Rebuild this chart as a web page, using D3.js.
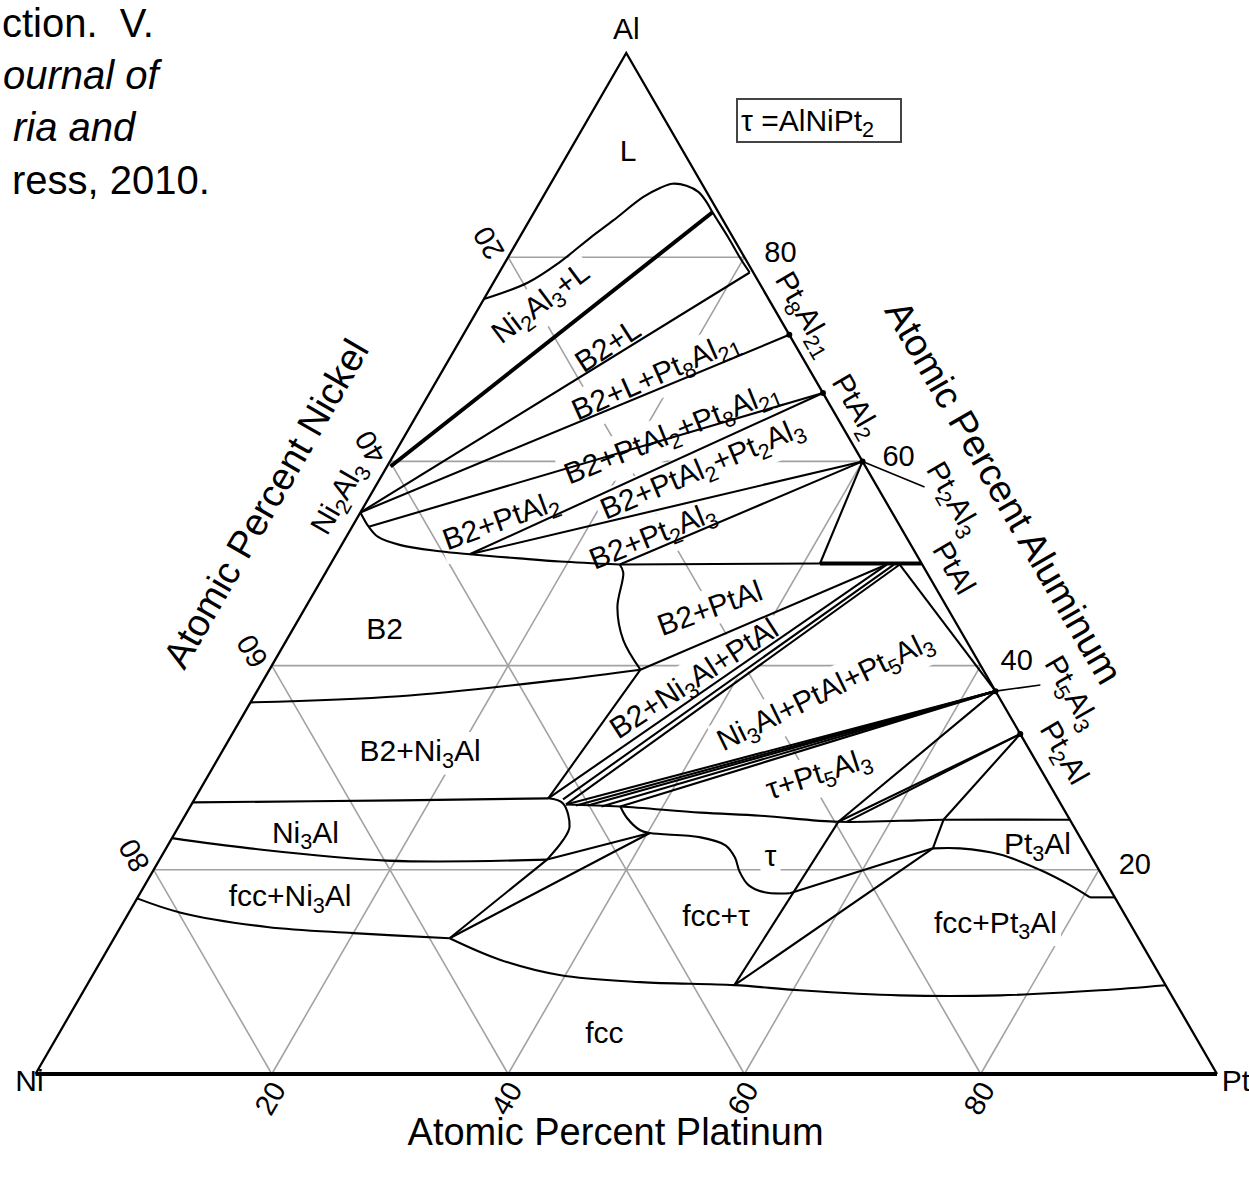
<!DOCTYPE html>
<html>
<head>
<meta charset="utf-8">
<script src="https://cdn.jsdelivr.net/npm/d3@7"></script>
<style>
  body { margin: 0; background: #fff; }
  svg { display: block; }
  text { font-family: "Liberation Sans", Arial, Helvetica, sans-serif; fill: #000; }
</style>
</head>
<body>
<svg id="chart" width="1249" height="1177"></svg>
<script>
// ---------------------------------------------------------------
// Al-Ni-Pt isothermal section. Every composition is [at.% Pt, at.% Al]
// (at.% Ni is the remainder).
// ---------------------------------------------------------------
const TICKS = [20, 40, 60, 80];
const VERTICES = [["Ni", 0, 0], ["Pt", 100, 0], ["Al", 0, 100]];
const AXIS_TITLES = ["Atomic Percent Nickel", "Atomic Percent Aluminum", "Atomic Percent Platinum"];
const CITATION = ["ction.  V.", "ournal of", "ria and", "ress, 2010."];
const LEGEND_TEXT = "\u03c4 =AlNiPt_2";

// phase boundaries (smooth curves)
const liquidus   = [[0,75.9],[2.9,77.5],[4.6,79.5],[6.0,81.9],[7.1,83.6],[8.5,85.9],[9.5,86.8],[10.3,87.2],[11.6,87.0],[12.9,86.4],[14.1,85.4],[15.1,84.4],[17.6,82.0],[19.6,80.0],[21.2,78.5]];
const b2AlRich   = [[0,55.0],[1.4,53.6],[2.7,52.6],[5.0,51.8],[8.6,51.2],[11.3,50.9],[15.7,50.5],[19.3,50.2],[24.5,49.9]];
const b2PtSide   = [[24.5,49.9],[25.2,49.1],[26.4,45.7],[28.5,42.5],[31.4,39.6]];
const b2NiSide   = [[0,36.4],[12.3,37.0],[25.1,38.6],[31.4,39.6]];
const ni3AlAlRich = [[0,26.6],[17.4,26.8],[29.9,27.0]];
const ni3AlPtSide = [[29.9,27.0],[31.4,26.5],[33.1,24.2],[33.2,22.9],[32.8,21.0]];
const ni3AlNiRich = [[0,23.1],[7.1,22.1],[19.3,20.9],[32.8,21.0]];
const fccAlRich  = [[0,17.2],[4.4,15.8],[12.4,14.4],[20.0,13.8],[28.4,13.3]];
const fccSolvus  = [[28.4,13.3],[33.7,11.2],[39.5,9.7],[46.7,9.0],[54.8,8.7],[60.6,8.2],[69.3,7.7],[77.8,7.7],[86.0,8.2],[91.3,8.7]];
const tauUpper   = [[31.7,26.4],[36.4,26.2],[43.5,25.6],[48.7,25.3],[55.6,24.7],[60.8,24.8],[64.4,24.9],[75.1,24.9]];
const tauLower   = [[36.4,26.2],[37.5,25.1],[39.2,23.9],[40.2,23.6],[44.6,23.2],[47.2,22.4],[48.6,21.2],[49.7,19.8],[51.1,18.5],[52.8,17.8],[55.0,17.7]];
const pt3AlLower = [[64.9,22.1],[67.2,22.1],[70.9,21.5],[75.0,20.0],[78.3,18.5],[80.6,17.3]];

// straight tie lines and tie triangles
const tieLines = [
  [[0,55.0],[21.2,78.5]],
  [[0,55.0],[27.6,72.4]],
  [[1.4,53.6],[33.3,66.7]],
  [[11.3,50.9],[33.3,66.7]],
  [[11.3,50.9],[40.0,60.0]],
  [[24.5,49.9],[40.0,60.0]],
  [[24.5,49.9],[41.4,50.0]],
  [[40.0,60.0],[41.4,50.0]],
  [[31.4,39.6],[29.9,27.0]],
  [[31.4,39.6],[47.1,49.9]],
  [[29.9,27.0],[47.1,49.9]],
  [[31.2,26.9],[47.7,49.9]],
  [[31.7,26.4],[48.2,49.9]],
  [[31.7,26.4],[62.5,37.5]],
  [[48.2,49.9],[62.5,37.5]],
  [[32.6,26.3],[62.5,37.5]],
  [[33.6,26.3],[62.5,37.5]],
  [[34.8,26.2],[62.5,37.5]],
  [[36.4,26.2],[62.5,37.5]],
  [[55.6,24.7],[62.5,37.5]],
  [[55.6,24.7],[66.7,33.3]],
  [[56.3,24.7],[66.7,33.3]],
  [[64.4,24.9],[66.7,33.3]],
  [[28.4,13.3],[32.8,21.0]],
  [[32.8,21.0],[40.2,23.6]],
  [[28.4,13.3],[40.2,23.6]],
  [[54.8,8.7],[55.6,24.7]],
  [[55.0,17.7],[64.9,22.1]],
  [[54.8,8.7],[64.9,22.1]],
  [[64.4,24.9],[64.9,22.1]],
  [[80.6,17.3],[82.7,17.3]]
];
const heavyLines = [
  [[0.3,59.5],[15.1,84.4]],   // Ni2Al3 + L
  [[41.4,50.0],[50.0,50.0]]   // PtAl
];
const leaderLines = [
  [[40.0,60.0],[46.5,57.5]],
  [[62.5,37.5],[66.0,38.1]]
];
const compounds = [[27.6,72.4],[33.3,66.7],[40.0,60.0],[62.5,37.5],[66.7,33.3]];

// labels: text, Pt, Al, angle
const regionLabels = [
  ["L", 4.9, 90.5, 0],
  ["Ni_2Al_3+L", 4.9, 75.6, -37],
  ["B2+L", 12.7, 71.4, -33],
  ["B2+L+Pt_8Al_21", 18.2, 68.5, -24],
  ["B2+PtAl_2+Pt_8Al_21", 22.4, 62.9, -22],
  ["B2+PtAl_2", 12.2, 54.3, -20],
  ["B2+PtAl_2+Pt_2Al_3", 26.7, 59.4, -23],
  ["B2+Pt_2Al_3", 25.8, 52.8, -22],
  ["B2+PtAl", 34.2, 45.7, -20],
  ["B2", 7.7, 43.7, 0],
  ["B2+Ni_3Al", 16.7, 31.7, 0],
  ["B2+Ni_3Al+PtAl", 36.3, 38.8, -33],
  ["Ni_3Al+PtAl+Pt_5Al_3", 48.0, 37.6, -26],
  ["\u03c4+Pt_5Al_3", 51.5, 29.5, -18],
  ["Ni_3Al", 11.0, 23.7, 0],
  ["\u03c4", 51.5, 21.4, 0],
  ["Pt_3Al", 73.5, 22.6, 0],
  ["fcc+Ni_3Al", 12.8, 17.5, 0],
  ["fcc+\u03c4", 49.8, 15.6, 0],
  ["fcc+Pt_3Al", 73.8, 14.9, 0],
  ["fcc", 46.1, 4.1, 0],
  ["Ni_2Al_3", -2.7, 56.5, -60],
  ["Pt_8Al_21", 28.0, 74.5, 60],
  ["PtAl_2", 36.8, 65.5, 60],
  ["Pt_2Al_3", 49.6, 56.4, 60],
  ["PtAl", 53.0, 49.6, 60],
  ["Pt_5Al_3", 69.1, 37.4, 60],
  ["Pt_2Al", 71.4, 31.5, 60]
];
// axis titles anchored at [Pt, Al] with a rotation
const titleSpots = [[-8.5, 55.9, -60], [53.5, 57.0, 60]];

// ---------------------------------------------------------------
const W = 1249, H = 1177;
const svg = d3.select("#chart");
const sx = d3.scaleLinear().domain([0, 100]).range([35.5, 1217]);
const sy = d3.scaleLinear().domain([0, 100]).range([1074, 53]);
const px = d => sx(d[0] + d[1] / 2);
const py = d => sy(d[1]);
const straight = d3.line().x(px).y(py);
const smooth = d3.line().x(px).y(py).curve(d3.curveCatmullRom.alpha(0.5));

const defs = svg.append("defs");
const mask = defs.append("mask").attr("id", "gridGaps")
  .attr("maskUnits", "userSpaceOnUse").attr("x", 0).attr("y", 0).attr("width", W).attr("height", H);
mask.append("rect").attr("width", W).attr("height", H).attr("fill", "#fff");

// grid
const gGrid = svg.append("g").attr("mask", "url(#gridGaps)")
  .attr("fill", "none").attr("stroke", "#a2a2a2").attr("stroke-width", 1.6);
TICKS.forEach(t => {
  gGrid.append("path").attr("d", straight([[0, t], [100 - t, t]]));       // constant Al
  gGrid.append("path").attr("d", straight([[t, 0], [t, 100 - t]]));       // constant Pt
  gGrid.append("path").attr("d", straight([[0, 100 - t], [100 - t, 0]])); // constant Ni
});

// triangle
const gFrame = svg.append("g").attr("fill", "none").attr("stroke", "#000");
gFrame.append("path").attr("d", straight([[0, 0], [0, 100], [100, 0]])).attr("stroke-width", 2.3);
gFrame.append("path").attr("d", straight([[0, 0], [100, 0]])).attr("stroke-width", 4);

// phase boundaries
const gB = svg.append("g").attr("fill", "none").attr("stroke", "#000")
  .attr("stroke-width", 2.1).attr("stroke-linejoin", "round");
[liquidus, b2AlRich, b2PtSide, b2NiSide, ni3AlAlRich, ni3AlPtSide, ni3AlNiRich,
 fccAlRich, fccSolvus, tauUpper, tauLower, pt3AlLower].forEach(c => gB.append("path").attr("d", smooth(c)));
tieLines.forEach(l => gB.append("path").attr("d", straight(l)));
heavyLines.forEach(l => gB.append("path").attr("d", straight(l)).attr("stroke-width", 4));
leaderLines.forEach(l => gB.append("path").attr("d", straight(l)).attr("stroke-width", 1.6));
svg.append("g").selectAll("circle").data(compounds).join("circle")
  .attr("cx", px).attr("cy", py).attr("r", 3).attr("fill", "#000");

// rich text with numeric subscripts written as _n
function richText(sel, str) {
  const parts = str.split(/_(\d+)/);
  let shifted = false;
  parts.forEach((s, i) => {
    if (!s) return;
    const sub = i % 2 === 1;
    const ts = sel.append("tspan").text(s);
    if (sub) { ts.attr("font-size", "0.72em").attr("dy", shifted ? null : "0.3em"); shifted = true; }
    else if (shifted) { ts.attr("dy", "-0.22em"); shifted = false; }
  });
}

// labels inside/around the triangle; grid is cut behind them
const gLab = svg.append("g");
function placeLabel(str, x, y, angle, size, anchor) {
  const tr = `translate(${x},${y}) rotate(${angle})`;
  const g = gLab.append("g").attr("transform", tr);
  const t = g.append("text").attr("font-size", size).attr("text-anchor", anchor || "middle").attr("dy", "0.36em");
  richText(t, str);
  const b = t.node().getBBox();
  mask.append("rect").attr("transform", tr)
    .attr("x", b.x - 4).attr("y", b.y - 2).attr("width", b.width + 8).attr("height", b.height + 4)
    .attr("fill", "#000");
  return t;
}
regionLabels.forEach(([s, p, a, ang]) => placeLabel(s, px([p, a]), py([p, a]), ang, 30));

// tick labels
TICKS.forEach(t => {
  // Ni scale along the left edge
  placeLabel(String(t), px([0, 100 - t]) - 20, py([0, 100 - t]) - 14, -120, 29);
  // Al scale along the right edge
  placeLabel(String(t), px([100 - t, t]) + 36, py([100 - t, t]) - 6, 0, 29);
  // Pt scale along the base
  placeLabel(String(t), px([t, 0]) - 2, py([t, 0]) + 24, -60, 29);
});

// axis titles
const titleSize = 38;
titleSpots.forEach(([p, a, ang], i) => placeLabel(AXIS_TITLES[i], px([p, a]), py([p, a]), ang, titleSize));
placeLabel(AXIS_TITLES[2], sx(49.1), sy(0) + 57, 0, titleSize);

// corner names
svg.append("text").attr("x", px([0, 100])).attr("y", py([0, 100]) - 14).attr("text-anchor", "middle")
  .attr("font-size", 30).text(VERTICES[2][0]);
svg.append("text").attr("x", sx(0) - 6).attr("y", sy(0) + 17).attr("text-anchor", "middle")
  .attr("font-size", 30).text(VERTICES[0][0]);
svg.append("text").attr("x", sx(100) + 19).attr("y", sy(0) + 17).attr("text-anchor", "middle")
  .attr("font-size", 30).text(VERTICES[1][0]);

// legend
const gLeg = svg.append("g");
gLeg.append("rect").attr("x", 737).attr("y", 99).attr("width", 164).attr("height", 43)
  .attr("fill", "#fff").attr("stroke", "#444").attr("stroke-width", 2);
const lt = gLeg.append("text").attr("x", 741).attr("y", 131).attr("font-size", 30);
richText(lt, LEGEND_TEXT);

// citation fragment at top left
const gCit = svg.append("g");
const italic = [false, true, true, false];
const starts = [2, 3, 13, 12];
CITATION.forEach((s, i) => {
  gCit.append("text").attr("x", starts[i]).attr("y", 37 + i * 52.2)
    .attr("font-size", 40).attr("font-style", italic[i] ? "italic" : "normal")
    .style("white-space", "pre").text(s);
});
</script>
</body>
</html>
